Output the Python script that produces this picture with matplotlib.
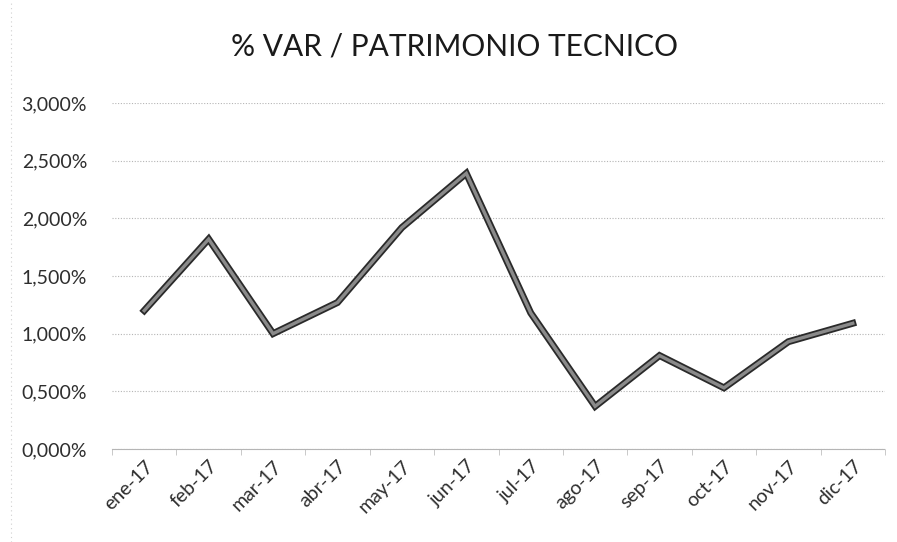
import numpy as np
import matplotlib.pyplot as plt
import matplotlib.patheffects as pe
from matplotlib.ticker import FuncFormatter, FixedLocator

# data
months = ["ene-17", "feb-17", "mar-17", "abr-17", "may-17", "jun-17",
          "jul-17", "ago-17", "sep-17", "oct-17", "nov-17", "dic-17"]
var_pct = [1.20, 1.82, 1.00, 1.27, 1.92, 2.39,
           1.18, 0.37, 0.81, 0.53, 0.93, 1.09]
yticks = [0.0, 0.5, 1.0, 1.5, 2.0, 2.5, 3.0]

plt.rcParams["font.family"] = ["Lato", "DejaVu Sans"]

fig = plt.figure(figsize=(8.97, 5.42), dpi=100)
ax = fig.add_axes([0.1249, 0.1716, 0.8617, 0.6384])

x = np.arange(len(months))
ax.plot(x, var_pct, color="#8a8a8a", linewidth=2.4, solid_joinstyle="miter",
        path_effects=[pe.Stroke(linewidth=5.0, foreground="#2a2a2a"), pe.Normal()],
        zorder=3)

ax.set_xlim(-0.5, len(months) - 0.5)
ax.set_ylim(0, 3.0)
ax.set_yticks(yticks)
ax.yaxis.set_major_formatter(FuncFormatter(lambda v, _: f"{v:.3f}%".replace(".", ",")))
ax.set_xticks(x)
ax.set_xticklabels(months, rotation=45, ha="right", rotation_mode="anchor")
ax.xaxis.set_minor_locator(FixedLocator(np.arange(-0.5, len(months), 1)))

ax.grid(axis="y", color="#b5b5b5", linestyle=(0, (1, 1.5)), linewidth=0.8, zorder=0)
for s in ["top", "right", "left"]:
    ax.spines[s].set_visible(False)
ax.spines["bottom"].set_color("#b5b5b5")
ax.spines["bottom"].set_linestyle((0, (1, 1)))

ax.tick_params(axis="y", length=0, pad=18, labelsize=14, labelcolor="#2e2e2e")
ax.tick_params(axis="x", which="major", length=0, pad=6, labelsize=14, labelcolor="#2e2e2e")
ax.tick_params(axis="x", which="minor", length=4, color="#c0c0c0")

fig.text(0.507, 0.915, "% VAR / PATRIMONIO TECNICO", ha="center", va="center",
         fontsize=21.5, color="#1a1a1a")

# faint scanned border on the left
fig.add_artist(plt.Line2D([0.012, 0.012], [0.0, 1.0], color="#d0d0d0",
                          linestyle=(0, (1, 3)), linewidth=0.8))

fig.savefig("out.png", dpi=100)
